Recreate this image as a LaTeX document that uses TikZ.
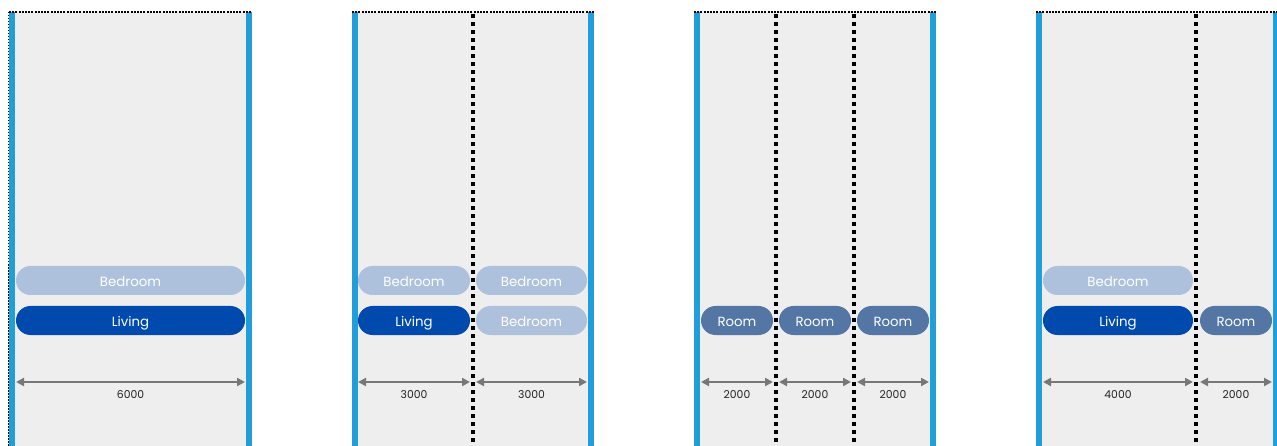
\documentclass[tikz,border=0pt]{standalone}
\usepackage{fontspec}
\setmainfont{Poppins}
\usetikzlibrary{arrows.meta}
\definecolor{bgrey}{HTML}{EEEEEE}
\definecolor{wallblue}{HTML}{1F9EDB}
\definecolor{bedc}{HTML}{AEC1DC}
\definecolor{livc}{HTML}{004AAD}
\definecolor{roomc}{HTML}{5376A5}
\definecolor{dimc}{HTML}{777777}
\definecolor{txtc}{HTML}{222222}
\tikzset{
  panelbg/.style={fill=bgrey, draw=none},
  wall/.style={fill=wallblue, draw=none},
  divider/.style={draw=black, line width=4pt, dash pattern=on 4pt off 4pt},
  topline/.style={draw=black, line width=2pt, dash pattern=on 2pt off 1.2pt},
  edgeline/.style={draw=black, line width=1pt, dash pattern=on 1.5pt off 1.5pt},
  pill/.style={rectangle, rounded corners=14.5pt, minimum height=29pt, inner sep=0pt, text height=12pt, text depth=0pt, text=white, font=\fontsize{13.3}{15}\selectfont},
  bedpill/.style={pill, fill=bedc},
  livpill/.style={pill, fill=livc},
  roompill/.style={pill, fill=roomc},
  dimline/.style={draw=dimc, line width=2pt, {Triangle[length=8pt,width=8pt]}-{Triangle[length=8pt,width=8pt]}},
  dimlabel/.style={text=txtc, font=\fontsize{10.8}{12}\selectfont, inner sep=0pt}
}
\begin{document}
\begin{tikzpicture}[x=1pt,y=-1pt]
\useasboundingbox (0,0) rectangle (1277,446);
% ---------- Panel 1 ----------
\fill[panelbg] (9,12) rectangle (252,446);
\draw[edgeline] (8.5,12) -- (8.5,446);
\fill[wall] (9,12) rectangle (15,446);
\fill[wall] (246,12) rectangle (252,446);
\draw[topline] (9,12) -- (252,12);
\node[bedpill, minimum width=229pt] (p1bed) at (130.5,280.5) {Bedroom};
\node[livpill, minimum width=229pt] (p1liv) at (130.5,320.5) {Living};
\coordinate (p1a) at (16,382); \coordinate (p1b) at (245,382);
\draw[dimline] (p1a) -- (p1b);
\node[dimlabel] (p1l) at (130.5,394.5) {6000};
% ---------- Panel 2 ----------
\fill[panelbg] (352,12) rectangle (594,446);
\fill[wall] (352,12) rectangle (357.5,446);
\fill[wall] (588,12) rectangle (594,446);
\coordinate (p2dt) at (473,14); \coordinate (p2db) at (473,446);
\draw[divider] (p2dt) -- (p2db);
\draw[topline] (352,12) -- (594,12);
\node[bedpill, minimum width=112pt] (p2bed1) at (414,280.5) {Bedroom};
\node[bedpill, minimum width=111pt] (p2bed2) at (531.5,280.5) {Bedroom};
\node[livpill, minimum width=112pt] (p2liv) at (414,320.5) {Living};
\node[bedpill, minimum width=111pt] (p2bed3) at (531.5,320.5) {Bedroom};
\coordinate (p2a) at (358,382); \coordinate (p2b) at (470,382);
\coordinate (p2c) at (476,382); \coordinate (p2d) at (587,382);
\draw[dimline] (p2a) -- (p2b);
\draw[dimline] (p2c) -- (p2d);
\node[dimlabel] (p2l1) at (414,394.5) {3000};
\node[dimlabel] (p2l2) at (531.5,394.5) {3000};
% ---------- Panel 3 ----------
\fill[panelbg] (694,12) rectangle (936,446);
\fill[wall] (694,12) rectangle (699.5,446);
\fill[wall] (930,12) rectangle (936,446);
\coordinate (p3dt1) at (776,14); \coordinate (p3db1) at (776,446);
\coordinate (p3dt2) at (854,14); \coordinate (p3db2) at (854,446);
\draw[divider] (p3dt1) -- (p3db1);
\draw[divider] (p3dt2) -- (p3db2);
\draw[topline] (694,12) -- (936,12);
\node[roompill, minimum width=72pt] (p3r1) at (737,320.5) {Room};
\node[roompill, minimum width=72pt] (p3r2) at (815,320.5) {Room};
\node[roompill, minimum width=72pt] (p3r3) at (893,320.5) {Room};
\coordinate (p3a) at (701,382); \coordinate (p3b) at (773,382);
\coordinate (p3c) at (779,382); \coordinate (p3d) at (851,382);
\coordinate (p3e) at (857,382); \coordinate (p3f) at (929,382);
\draw[dimline] (p3a) -- (p3b);
\draw[dimline] (p3c) -- (p3d);
\draw[dimline] (p3e) -- (p3f);
\node[dimlabel] (p3l1) at (737,394.5) {2000};
\node[dimlabel] (p3l2) at (815,394.5) {2000};
\node[dimlabel] (p3l3) at (893,394.5) {2000};
% ---------- Panel 4 ----------
\fill[panelbg] (1036,12) rectangle (1277,446);
\fill[wall] (1036,12) rectangle (1042,446);
\fill[wall] (1273,12) rectangle (1277,446);
\coordinate (p4dt) at (1196,14); \coordinate (p4db) at (1196,446);
\draw[divider] (p4dt) -- (p4db);
\draw[topline] (1036,12) -- (1277,12);
\node[bedpill, minimum width=150pt] (p4bed) at (1118,280.5) {Bedroom};
\node[livpill, minimum width=150pt] (p4liv) at (1118,320.5) {Living};
\node[roompill, minimum width=72pt] (p4room) at (1236,320.5) {Room};
\coordinate (p4a) at (1043,382); \coordinate (p4b) at (1193,382);
\coordinate (p4c) at (1200,382); \coordinate (p4d) at (1272,382);
\draw[dimline] (p4a) -- (p4b);
\draw[dimline] (p4c) -- (p4d);
\node[dimlabel] (p4l1) at (1118,394.5) {4000};
\node[dimlabel] (p4l2) at (1236,394.5) {2000};
\end{tikzpicture}
\end{document}
